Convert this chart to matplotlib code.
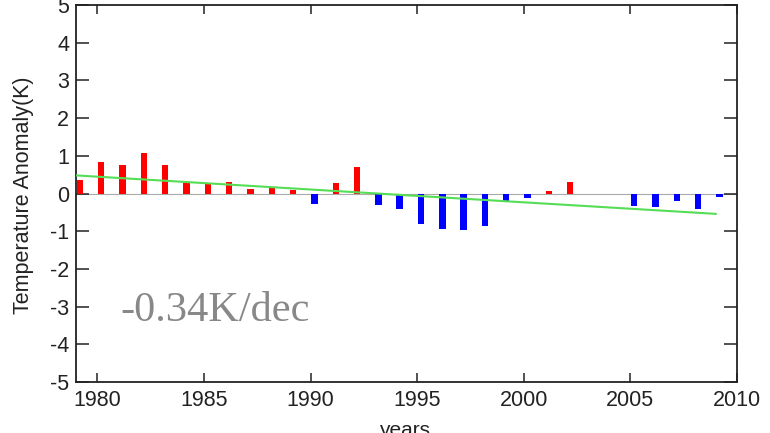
import matplotlib
matplotlib.use("Agg")
import matplotlib.pyplot as plt
import numpy as np

# yearly temperature anomaly (K)
years = list(range(1979, 2010))
anomaly = [0.35, 0.84, 0.75, 1.08, 0.75, 0.29, 0.25, 0.31, 0.11, 0.15,
           0.09, -0.28, 0.28, 0.71, -0.31, -0.42, -0.82, -0.95, -0.98, -0.87,
           -0.20, -0.11, 0.06, 0.31, -0.01, -0.02, -0.33, -0.37, -0.20, -0.40,
           -0.09]

# linear trend: value at 1979 and slope in K/decade
trend_start = 0.48
trend_per_dec = -0.34

plt.rcParams['font.family'] = ['Liberation Sans', 'DejaVu Sans']
plt.rcParams['axes.unicode_minus'] = False

fig = plt.figure(figsize=(7.7, 4.33), dpi=100)
ax = fig.add_axes([76 / 770, 1 - 382 / 433, 661 / 770, 377 / 433])

yrs = np.array(years)
vals = np.array(anomaly)
colors = ['#ff0000' if v >= 0 else '#0000ff' for v in vals]
ax.bar(yrs + 0.18, vals, width=0.3, color=colors, zorder=2)

ax.axhline(0, color='#aaaaaa', lw=0.8, zorder=1)

trend_x = np.array([years[0], years[-1]])
trend_y = trend_start + trend_per_dec / 10 * (trend_x - years[0])
ax.plot(trend_x, trend_y, color='#55dd55', lw=1.5, zorder=3)

ax.text(1981.1, -3.1, '%.2fK/dec' % trend_per_dec, family='Liberation Serif',
        fontsize=30.5, color='#888888', va='center', ha='left')

ax.set_xlim(1979, 2010)
ax.set_ylim(-5, 5)
ax.set_xticks(range(1980, 2011, 5))
ax.set_yticks(range(-5, 6))

ax.tick_params(axis='x', direction='in', length=6.5, width=1.1, top=True,
               labelsize=15.5, pad=6, colors='#222222')
ax.tick_params(axis='y', direction='in', length=9.5, width=1.1, right=True,
               labelsize=15.5, pad=5, colors='#222222')
for s in ax.spines.values():
    s.set_linewidth(1.3)
    s.set_color('#222222')

fig.text(24 / 770, 1 - 195 / 433, 'Temperature Anomaly(K)', rotation=90,
         fontsize=15.5, ha='center', va='center', color='#222222')
fig.text(405 / 770, 1 - 421 / 433, 'years', fontsize=15, ha='center',
         va='top', color='#222222')

fig.savefig('out.png', dpi=100)
